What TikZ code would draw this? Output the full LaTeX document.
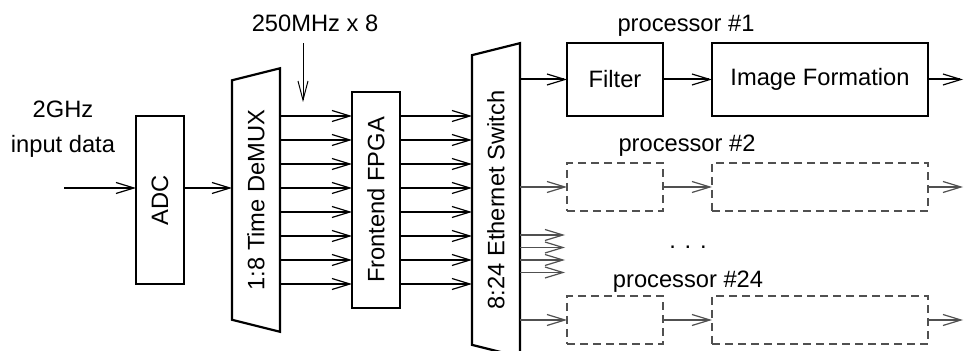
\documentclass[tikz,border=0pt]{standalone}
\usepackage{fontspec}
\setmainfont{Liberation Sans}
\usetikzlibrary{positioning, arrows.meta, shapes.geometric, calc}
\definecolor{ghostgray}{HTML}{505050}

\begin{document}
\begin{tikzpicture}[
    every node/.style={font=\fontsize{11.85}{14.2}\selectfont},
    block/.style={
      draw, line width=1.1pt, inner sep=0pt, outer sep=0pt,
      minimum width=24pt
    },
    mux/.style={
      draw, line width=1.1pt, trapezium, trapezium stretches=true,
      trapezium left angle=62.5, trapezium right angle=62.5,
      rotate=90, minimum height=24pt, inner sep=0pt, outer sep=0pt
    },
    ghost/.style={
      draw=ghostgray, dash pattern=on 4pt off 2.5pt, line width=0.7pt,
      inner sep=0pt, outer sep=0pt, minimum height=24pt
    },
    arrow/.style={-{Straight Barb[length=9pt, width=5.5pt, line width=0.6pt]}, line width=1pt},
    garrow/.style={arrow, ghostgray, line width=0.65pt},
    clkarrow/.style={-{Straight Barb[length=9.5pt, width=5pt, line width=0.5pt]}, line width=0.5pt}
]
  \useasboundingbox (0,0) rectangle (482pt,-175.5pt);

  % front end
  \node[block, minimum height=84pt] (adc) at (80pt,-100pt) {\rotatebox{90}{ADC}};
  \node[mux, minimum width=132.5pt, anchor=north] (demux) at ($(adc.east)+(24pt,0)$) {1:8 Time DeMUX};
  \node[block, minimum height=108pt, anchor=west] (fpga) at ($(demux.south)+(36pt,0)$) {\rotatebox{90}{Frontend FPGA}};
  \node[mux, minimum width=157pt, anchor=north] (switch) at ($(fpga.east)+(36pt,0)$) {8:24 Ethernet Switch};

  \foreach \i in {1,...,8} {
    \coordinate (in\i) at ($(fpga.north west)!\i/9!(fpga.south west)$);
    \draw[arrow] (demux.south |- in\i) -- (in\i);
    \draw[arrow] (fpga.east |- in\i) -- (switch.north |- in\i);
  }

  \coordinate (src) at ($(adc.west)+(-36pt,0)$);
  \draw[arrow] (src |- in4) -- (adc.west |- in4);
  \draw[arrow] (adc.east |- in4) -- (demux.north |- in4);
  \node[align=center] (inlabel) at (31.5pt,-64.75pt) {2GHz\\[3.3pt]input data};

  \node[anchor=base] (clk) at (157.5pt,-16pt) {250MHz x 8};
  \coordinate (clkin) at (151.5pt,-51pt);
  \draw[clkarrow] ([yshift=-2pt]clk.south -| clkin) -- (clkin);

  % processors
  \node[block, minimum width=48pt, minimum height=36.5pt, anchor=west] (filter) at ($(switch.south)+(23.5pt,60.25pt)$) {Filter};
  \node[block, minimum width=108pt, minimum height=36.5pt, right=24.5pt of filter] (imgform) {Image Formation};
  \coordinate[right=17.5pt of imgform] (out1);

  \node[ghost, minimum width=48pt, below=23.5pt of filter] (filter2) {};
  \node[ghost, minimum width=108pt, below=23.5pt of imgform] (imgform2) {};
  \coordinate[right=17.5pt of imgform2] (out2);

  \node[ghost, minimum width=48pt, below=42.5pt of filter2] (filter24) {};
  \node[ghost, minimum width=108pt, below=42.5pt of imgform2] (imgform24) {};
  \coordinate[right=17.5pt of imgform24] (out24);

  \draw[arrow] (switch.south |- filter.west) -- (filter.west);
  \draw[arrow] (filter) -- (imgform);
  \draw[arrow] (imgform) -- (out1);

  \draw[garrow] (switch.south |- filter2.west) -- (filter2.west);
  \draw[garrow] (filter2) -- (imgform2);
  \draw[garrow] (imgform2) -- (out2);

  \foreach \k in {0,...,3} {
    \coordinate (fan\k) at ($(filter2.west)+(-1pt,-24pt-6.25pt*\k)$);
    \draw[garrow] (switch.south |- fan\k) -- (fan\k);
  }

  \draw[garrow] (switch.south |- filter24.west) -- (filter24.west);
  \draw[garrow] (filter24) -- (imgform24);
  \draw[garrow] (imgform24) -- (out24);

  \node[anchor=base] (proc1) at ($(filter.north east)+(11.5pt,5.5pt)$) {processor \#1};
  \node[anchor=base] (proc2) at ($(filter2.north east)+(12pt,5.5pt)$) {processor \#2};
  \node[anchor=base] (dots) at ($(filter2.south east)+(12.5pt,-18.75pt)$) {. . .};
  \node[anchor=base] (proc24) at ($(filter24.north east)+(12.5pt,4pt)$) {processor \#24};
\end{tikzpicture}
\end{document}
